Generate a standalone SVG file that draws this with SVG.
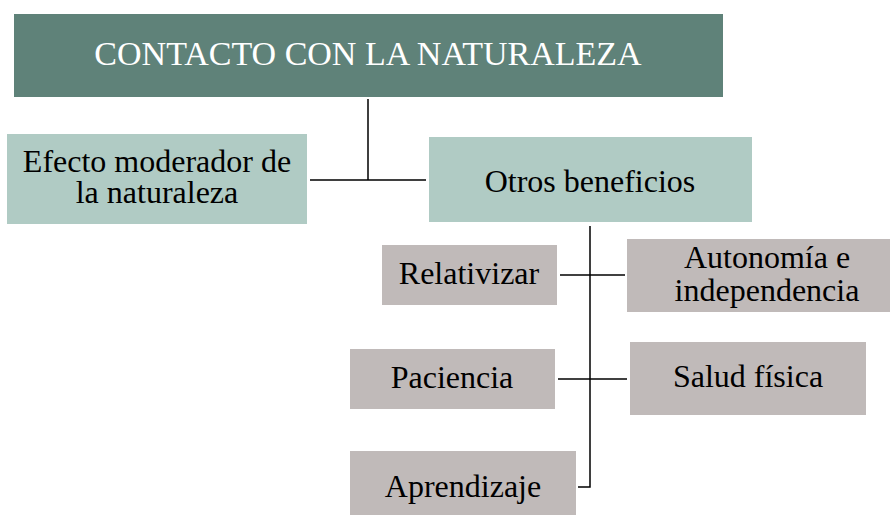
<svg xmlns="http://www.w3.org/2000/svg" width="890" height="516" viewBox="0 0 890 516">
<style>
text{font-family:"Liberation Serif","Times New Roman",serif;text-anchor:middle;fill:#000;font-size:32px}
.top{fill:#5f8279}
.green{fill:#b0cbc4}
.gray{fill:#c0bab9}
.title{fill:#fff;font-size:34px}
.conn{stroke:#000;stroke-width:1.5;fill:none}
</style>
<rect width="890" height="516" fill="#fff"/>
<g id="connectors">
<path class="conn" d="M368 99V180M310 180H426"/>
<path class="conn" d="M590 226V487H578"/>
<path class="conn" d="M560 275H625"/>
<path class="conn" d="M558 379H627"/>
</g>
<g id="contacto">
<rect class="top" x="14" y="14" width="709" height="83"/>
<text class="title" x="368" y="65">CONTACTO CON LA NATURALEZA</text>
</g>
<g id="efecto">
<rect class="green" x="7" y="134" width="300" height="90"/>
<text x="157" y="172">Efecto moderador de</text>
<text x="157" y="203">la naturaleza</text>
</g>
<g id="otros">
<rect class="green" x="429" y="137" width="323" height="85"/>
<text x="590" y="192">Otros beneficios</text>
</g>
<g id="relativizar">
<rect class="gray" x="382" y="245" width="175" height="60"/>
<text x="469" y="284">Relativizar</text>
</g>
<g id="autonomia">
<rect class="gray" x="627" y="239" width="263" height="73"/>
<text x="767" y="268">Autonomía e</text>
<text x="767" y="301">independencia</text>
</g>
<g id="paciencia">
<rect class="gray" x="350" y="349" width="205" height="60"/>
<text x="452" y="388">Paciencia</text>
</g>
<g id="salud">
<rect class="gray" x="630" y="342" width="236" height="73"/>
<text x="748" y="387">Salud física</text>
</g>
<g id="aprendizaje">
<rect class="gray" x="350" y="451" width="226" height="64"/>
<text x="463" y="497">Aprendizaje</text>
</g>
</svg>
